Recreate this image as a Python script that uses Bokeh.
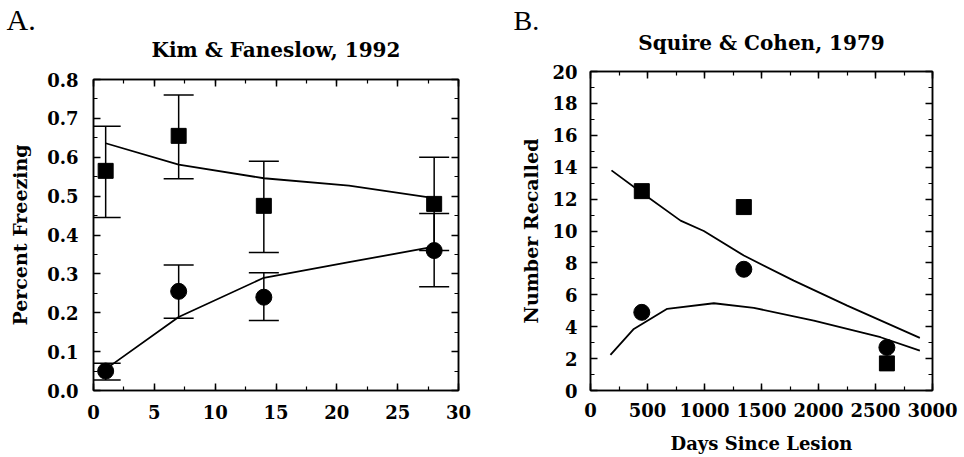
from bokeh.plotting import figure
from bokeh.models import (Range1d, LinearAxis, SingleIntervalTicker, Whisker,
                          ColumnDataSource, TeeHead, Title, PrintfTickFormatter,
                          CustomJSTickFormatter)
from bokeh.layouts import row, column
from bokeh.embed import file_html
from bokeh.resources import INLINE

# ---------------- Panel A data (Kim & Faneslow, 1992) ----------------
a_days = [1, 7, 14, 28]
a_sq = [0.565, 0.655, 0.475, 0.48]
a_sq_lo = [0.445, 0.545, 0.355, 0.36]
a_sq_hi = [0.68, 0.76, 0.59, 0.60]
a_ci = [0.05, 0.255, 0.24, 0.36]
a_ci_lo = [0.027, 0.186, 0.18, 0.267]
a_ci_hi = [0.07, 0.323, 0.303, 0.455]
a_fit_x = [1, 7, 14, 21, 28]
a_fit_hi = [0.636, 0.581, 0.546, 0.527, 0.495]
a_fit_lo = [0.055, 0.189, 0.29, 0.33, 0.37]

# ---------------- Panel B data (Squire & Cohen, 1979) ----------------
b_days = [450, 1345, 2600]
b_sq = [12.5, 11.5, 1.7]
b_ci = [4.9, 7.6, 2.7]
b_fit_hi_x = [184, 450, 790, 994, 1345, 1783, 2252, 2889]
b_fit_hi = [13.8, 12.4, 10.65, 10.0, 8.46, 6.89, 5.32, 3.3]
b_fit_lo_x = [175, 380, 673, 1082, 1433, 1959, 2544, 2889]
b_fit_lo = [2.23, 3.86, 5.12, 5.47, 5.18, 4.38, 3.34, 2.5]

FONT = "DejaVu Serif"


def style(p, xint, yint, yfmt, title, title_standoff):
    p.outline_line_color = "black"
    p.outline_line_width = 1.5
    p.background_fill_color = "white"
    p.border_fill_color = "white"
    p.xgrid.visible = False
    p.ygrid.visible = False
    bottom = p.below[0]
    left = p.left[0]
    xt = SingleIntervalTicker(interval=xint, num_minor_ticks=2)
    yt = SingleIntervalTicker(interval=yint, num_minor_ticks=2)
    bottom.ticker = xt
    left.ticker = yt
    if yfmt:
        left.formatter = PrintfTickFormatter(format=yfmt)
    blank = CustomJSTickFormatter(code="return ''")
    # top axis: inward ticks only, carries the panel title as its label
    top = LinearAxis(ticker=xt, formatter=blank, major_label_standoff=0,
                     axis_label=title, axis_label_standoff=title_standoff,
                     axis_label_text_font=FONT, axis_label_text_font_style="bold",
                     axis_label_text_font_size="20px", axis_label_text_color="black")
    right = LinearAxis(ticker=yt, formatter=blank, major_label_standoff=0)
    p.add_layout(top, "above")
    p.add_layout(right, "right")
    for ax in [bottom, left, top, right]:
        ax.axis_line_color = "black"
        ax.axis_line_width = 1.5
        ax.major_tick_in = 7
        ax.major_tick_out = 0
        ax.minor_tick_in = 4
        ax.minor_tick_out = 0
        ax.major_tick_line_width = 1.5
        ax.minor_tick_line_width = 1.2
        ax.major_tick_line_color = "black"
        ax.minor_tick_line_color = "black"
    for ax in [bottom, left]:
        ax.major_label_text_font = FONT
        ax.major_label_text_font_style = "bold"
        ax.major_label_text_font_size = "18px"
        ax.major_label_text_color = "black"
        ax.axis_label_text_font = FONT
        ax.axis_label_text_font_style = "bold"
        ax.axis_label_text_font_size = "19px"
        ax.axis_label_text_color = "black"
    return bottom, left


# ---------------- Panel A ----------------
pA = figure(width=480, height=457, output_backend="svg", toolbar_location=None,
            x_range=Range1d(0, 30), y_range=Range1d(0, 0.8),
            min_border_left=93, min_border_right=22, min_border_top=79, min_border_bottom=67)
xa, ya = style(pA, 5, 0.1, "%.1f", "Kim & Faneslow, 1992", 18)
ya.axis_label = "Percent Freezing"
ya.major_label_standoff = 15
ya.axis_label_standoff = 13
xa.major_label_standoff = 14
pA.add_layout(Title(text="A.", align="left", offset=-87, text_font="Liberation Serif",
                    text_font_style="normal", text_font_size="30px", text_color="black",
                    standoff=-3), "above")

srcA = ColumnDataSource(dict(x=a_days, sq=a_sq, sq_lo=a_sq_lo, sq_hi=a_sq_hi,
                             ci=a_ci, ci_lo=a_ci_lo, ci_hi=a_ci_hi))
pA.line(a_fit_x, a_fit_hi, line_color="black", line_width=1.8)
pA.line(a_fit_x, a_fit_lo, line_color="black", line_width=1.8)
for lo, hi in [("sq_lo", "sq_hi"), ("ci_lo", "ci_hi")]:
    w = Whisker(source=srcA, base="x", lower=lo, upper=hi, line_color="black", line_width=1.5,
                upper_head=TeeHead(size=30, line_color="black", line_width=1.5),
                lower_head=TeeHead(size=30, line_color="black", line_width=1.5))
    pA.add_layout(w)
pA.scatter("x", "sq", source=srcA, marker="square", size=15, fill_color="black", line_color="black")
pA.scatter("x", "ci", source=srcA, marker="circle", size=16, fill_color="black", line_color="black")

# ---------------- Panel B ----------------
pB = figure(width=484, height=457, output_backend="svg", toolbar_location=None,
            x_range=Range1d(0, 3000), y_range=Range1d(0, 20),
            min_border_left=110, min_border_right=32, min_border_top=71, min_border_bottom=67)
xb, yb = style(pB, 500, 2, None, "Squire & Cohen, 1979", 17)
yb.axis_label = "Number Recalled"
xb.axis_label = "Days Since Lesion"
xb.axis_label_text_font_size = "18px"
yb.major_label_standoff = 13
yb.axis_label_standoff = 7
xb.major_label_standoff = 12
xb.axis_label_standoff = 13
pB.add_layout(Title(text="B.", align="left", offset=-77, text_font="Liberation Serif",
                    text_font_style="normal", text_font_size="28px", text_color="black",
                    standoff=-16), "above")

pB.line(b_fit_hi_x, b_fit_hi, line_color="black", line_width=1.8)
pB.line(b_fit_lo_x, b_fit_lo, line_color="black", line_width=1.8)
pB.scatter(b_days, b_sq, marker="square", size=15, fill_color="black", line_color="black")
pB.scatter(b_days, b_ci, marker="circle", size=16, fill_color="black", line_color="black")

# wrap each figure separately so the two frames are not forced to share borders
layout = row(column(pA), column(pB), spacing=0)
open("out.html", "w").write(file_html(layout, INLINE))
